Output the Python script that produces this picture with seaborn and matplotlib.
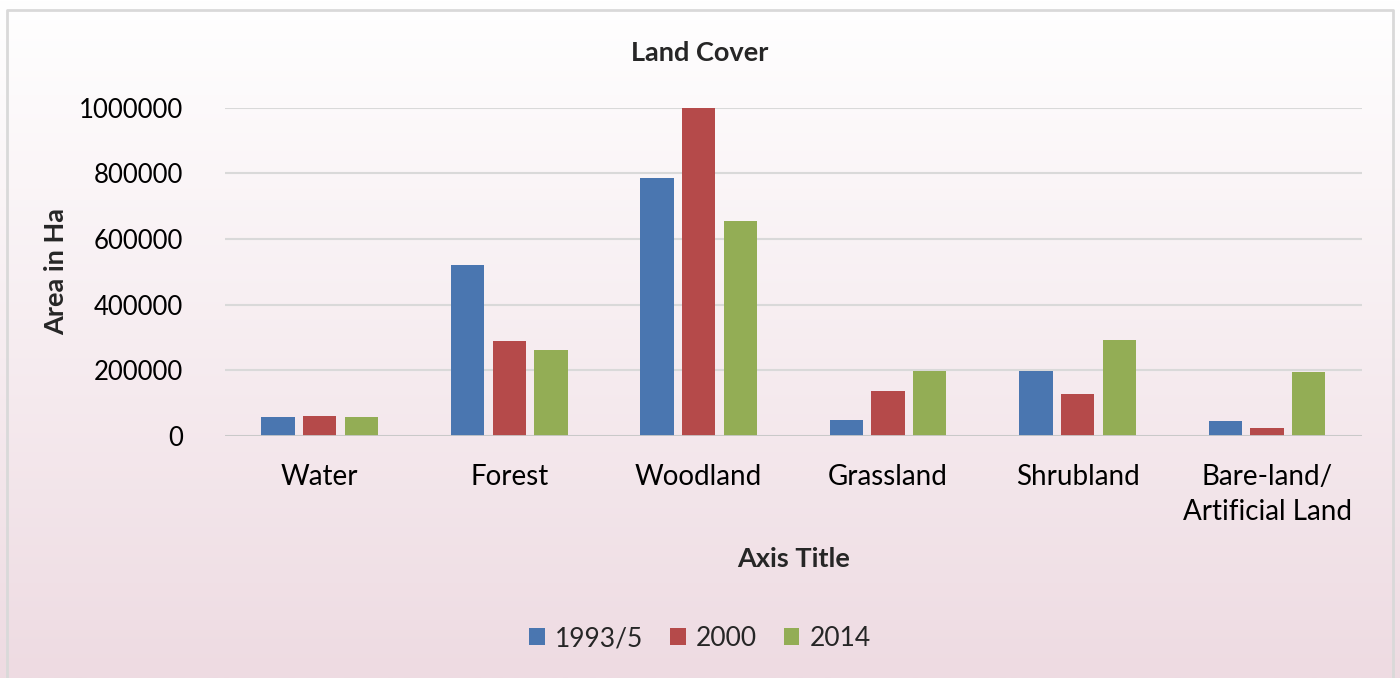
import numpy as np
import pandas as pd
import matplotlib
matplotlib.use("Agg")
import matplotlib.pyplot as plt
import matplotlib.ticker as mticker
import seaborn as sns

categories = ["Water", "Forest", "Woodland", "Grassland", "Shrubland",
              "Bare-land/\nArtificial Land"]
years = ["1993/5", "2000", "2014"]
area_1993 = [58000, 521000, 787000, 49000, 199000, 46000]
area_2000 = [61000, 290000, 1000000, 137000, 129000, 25000]
area_2014 = [58000, 262000, 655000, 198000, 293000, 194000]
colors = ["#4a76b0", "#b54a4a", "#93ad55"]

df = pd.DataFrame({
    "cover": categories * 3,
    "year": [years[0]] * 6 + [years[1]] * 6 + [years[2]] * 6,
    "area": area_1993 + area_2000 + area_2014,
})

sns.set_style("white")
plt.rcParams["font.family"] = ["Lato", "DejaVu Sans"]

fig = plt.figure(figsize=(14, 6.78), dpi=100)

# gradient background with a light border
bg = fig.add_axes([0, 0, 1, 1], zorder=-10)
grad = np.linspace(0, 1, 256).reshape(-1, 1)
top = np.array([1.0, 1.0, 1.0])
bot = np.array([0xEE, 0xDB, 0xE2]) / 255
img = top + (bot - top) * grad[..., None]
bg.imshow(img, aspect="auto", extent=[0, 1, 0, 1], origin="upper")
bg.plot([0.005, 0.005, 0.995, 0.995], [0, 0.985, 0.985, 0], color="#d9d9d9", lw=2)
bg.set_xlim(0, 1)
bg.set_ylim(0, 1)
bg.axis("off")

ax = fig.add_axes([0.1607, 0.357, 0.812, 0.484])
ax.patch.set_alpha(0)
sns.barplot(data=df, x="cover", y="area", hue="year", palette=colors,
            saturation=1, width=0.66, gap=0.2, linewidth=0, ax=ax, legend=True)

ax.set_ylim(0, 1000000)
ax.set_yticks(np.arange(0, 1000001, 200000))
ax.yaxis.set_major_formatter(mticker.FuncFormatter(lambda v, p: f"{int(v)}"))
ax.yaxis.grid(True, color="#d9d9d9", lw=1.5)
ax.set_axisbelow(True)
for s in ax.spines.values():
    s.set_visible(False)
ax.axhline(0, color="#c8c8c8", lw=2, zorder=1)
ax.tick_params(axis="both", length=0, colors="black")
ax.tick_params(axis="x", labelsize=20, pad=20)
ax.tick_params(axis="y", labelsize=18.5, pad=30)
for lbl in ax.get_xticklabels():
    lbl.set_linespacing(1.45)
ax.set_xlabel("Axis Title", fontsize=19.5, fontweight="bold", labelpad=16)
ax.set_ylabel("Area in Ha", fontsize=19.5, fontweight="bold", labelpad=8)
fig.text(0.5, 0.922, "Land Cover", ha="center", va="center",
         fontsize=19.5, fontweight="bold")

ax.legend(loc="center", bbox_to_anchor=(0.5, 0.058), bbox_transform=fig.transFigure,
          ncol=3, frameon=False, fontsize=19, handlelength=0.6, handleheight=0.6,
          handletextpad=0.4, columnspacing=1.0)

fig.savefig("out.png", dpi=100)
